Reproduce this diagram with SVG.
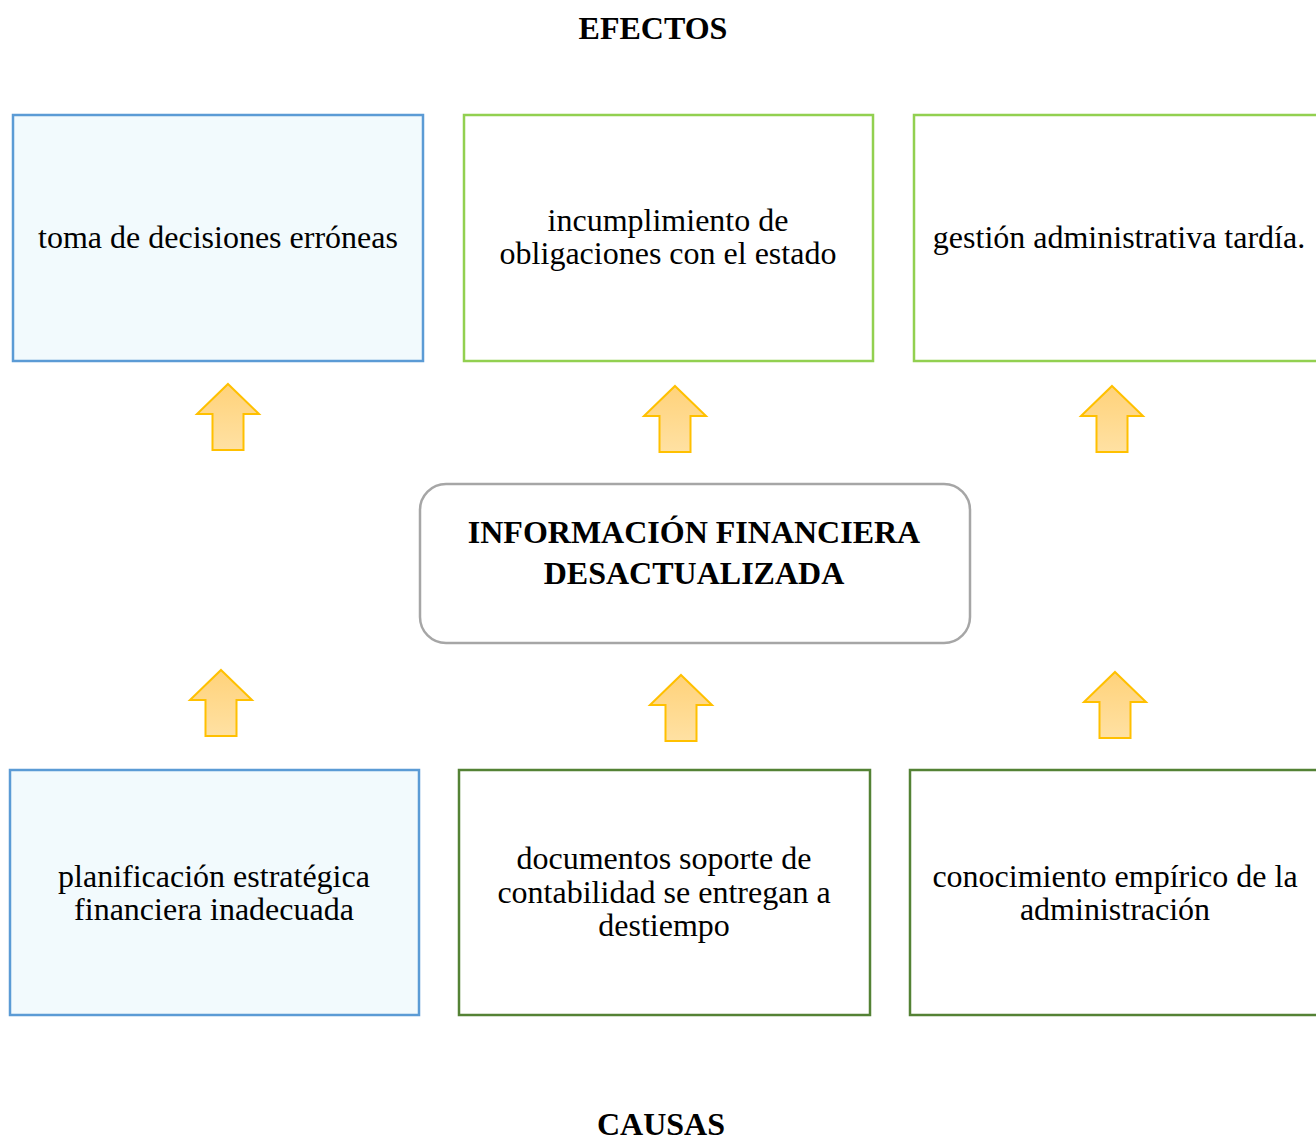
<svg xmlns="http://www.w3.org/2000/svg" width="1316" height="1141" viewBox="0 0 1316 1141">
<defs>
<linearGradient id="ag" x1="0" y1="0" x2="0" y2="1">
<stop offset="0" stop-color="#FFD27A"/>
<stop offset="1" stop-color="#FFE1A3"/>
</linearGradient>
<path id="arr" d="M0,0 L31,30 L15.5,30 L15.5,66 L-15.5,66 L-15.5,30 L-31,30 Z"/>
</defs>
<style>
text{font-family:"Liberation Serif","Times New Roman",serif;fill:#000;text-anchor:middle}
.t{font-size:32px}
.h{font-size:32px;font-weight:bold}
.blue{fill:#F2FAFD;stroke:#5B9BD5;stroke-width:2.5}
.lg{fill:#FFFFFF;stroke:#92D050;stroke-width:2.5}
.dg{fill:#FFFFFF;stroke:#548235;stroke-width:2.5}
.ar{fill:url(#ag);stroke:#FFC000;stroke-width:2}
</style>
<rect width="1316" height="1141" fill="#FFFFFF"/>
<text class="h" x="653" y="39">EFECTOS</text>
<text class="h" x="661" y="1135">CAUSAS</text>
<g id="efecto1"><rect class="blue" x="13" y="115" width="410" height="246"/><text class="t" x="218" y="248">toma de decisiones erróneas</text></g>
<g id="efecto2"><rect class="lg" x="464" y="115" width="409" height="246"/><text class="t" x="668" y="231">incumplimiento de</text><text class="t" x="668" y="264">obligaciones con el estado</text></g>
<g id="efecto3"><rect class="lg" x="914" y="115" width="410" height="246"/><text class="t" x="1119" y="248">gestión administrativa tardía.</text></g>
<g id="problema"><rect x="420" y="484" width="550" height="159" rx="26" ry="26" fill="#FFFFFF" stroke="#A6A6A6" stroke-width="2.5"/><text class="h" x="694" y="543">INFORMACIÓN FINANCIERA</text><text class="h" x="694" y="584">DESACTUALIZADA</text></g>
<g id="causa1"><rect class="blue" x="10" y="770" width="409" height="245"/><text class="t" x="214" y="887">planificación estratégica</text><text class="t" x="214" y="920">financiera inadecuada</text></g>
<g id="causa2"><rect class="dg" x="459" y="770" width="411" height="245"/><text class="t" x="664" y="869">documentos soporte de</text><text class="t" x="664" y="903">contabilidad se entregan a</text><text class="t" x="664" y="936">destiempo</text></g>
<g id="causa3"><rect class="dg" x="910" y="770" width="410" height="245"/><text class="t" x="1115" y="887">conocimiento empírico de la</text><text class="t" x="1115" y="920">administración</text></g>
<g id="connectors">
<use href="#arr" class="ar" x="228" y="384"/>
<use href="#arr" class="ar" x="675" y="386"/>
<use href="#arr" class="ar" x="1112" y="386"/>
<use href="#arr" class="ar" x="221" y="670"/>
<use href="#arr" class="ar" x="681" y="675"/>
<use href="#arr" class="ar" x="1115" y="672"/>
</g>
</svg>
